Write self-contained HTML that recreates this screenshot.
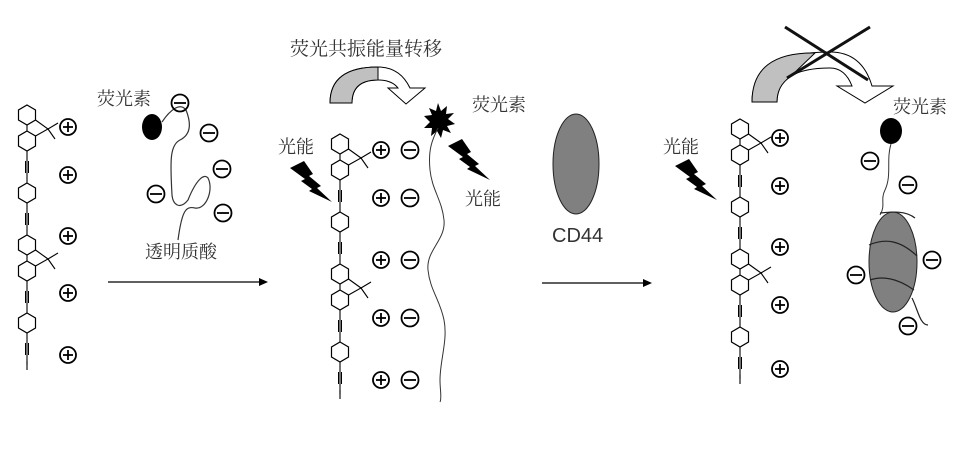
<!DOCTYPE html>
<html><head><meta charset="utf-8"><style>
html,body{margin:0;padding:0;background:#fff;}
svg{display:block;}
text{font-family:"Liberation Serif","Noto Serif CJK SC",serif;fill:#333;}
</style></head><body>
<svg width="960" height="449" viewBox="0 0 960 449" xmlns="http://www.w3.org/2000/svg">
<defs>
<polygon id="hx" points="0,-10 8.5,-5 8.5,5 0,10 -8.5,5 -8.5,-5" fill="none" stroke="#000" stroke-width="1.2"/>
<g id="fl" stroke="#000" stroke-width="1.1" fill="none">
  <use href="#hx" y="0"/>
  <use href="#hx" y="26"/>
  <line x1="0" y1="10" x2="0" y2="16"/>
  <polyline points="8.5,5 21,14 8.5,21"/>
  <line x1="21" y1="14" x2="31" y2="8"/>
  <line x1="21" y1="14" x2="28" y2="24"/>
</g>
<g id="tb" stroke="#000" fill="none">
  <line x1="0" y1="0" x2="0" y2="32" stroke-width="1.1"/>
  <line x1="-1.5" y1="10" x2="-1.5" y2="22" stroke-width="1"/>
  <line x1="1.5" y1="10" x2="1.5" y2="22" stroke-width="1"/>
</g>
<g id="chain">
  <use href="#fl" y="12"/>
  <use href="#tb" y="48"/>
  <use href="#hx" y="90"/>
  <use href="#tb" y="100"/>
  <use href="#fl" y="142"/>
  <use href="#tb" y="178"/>
  <use href="#hx" y="220"/>
  <use href="#tb" y="230"/>
  <line x1="0" y1="258" x2="0" y2="267" stroke="#000" stroke-width="1.1"/>
</g>
<g id="pl" fill="none" stroke="#000" stroke-width="1.8">
  <circle r="8"/><line x1="-5" y1="0" x2="5" y2="0"/><line x1="0" y1="-5" x2="0" y2="5"/>
</g>
<g id="mi" fill="none" stroke="#000" stroke-width="1.8">
  <circle r="8.5"/><line x1="-6" y1="0" x2="6" y2="0"/>
</g>
<polygon id="bolt" points="0,0 14,-7 23,6 19,8 31,18 27,20 42,34 19,23 22,21 11,13 15,11" fill="#000"/>
</defs>

<!-- Panel 1 -->
<use href="#chain" x="27" y="103"/>
<use href="#pl" x="68" y="127"/><use href="#pl" x="68" y="175"/><use href="#pl" x="68" y="236"/><use href="#pl" x="68" y="293"/><use href="#pl" x="68" y="355"/>
<text x="97" y="105" font-size="18">荧光素</text>
<ellipse cx="152" cy="127" rx="10" ry="13" fill="#000"/>
<path d="M162,122 C170,110 180,102 186,110 C192,125 190,135 180,140 C170,145 170,160 172,195 C173,205 180,210 188,200 C196,180 204,173 208,178 C214,190 206,210 195,208 C186,206 182,210 178,240" fill="none" stroke="#333" stroke-width="1.2"/>
<use href="#mi" x="180" y="103"/><use href="#mi" x="209" y="133"/><use href="#mi" x="222" y="169"/><use href="#mi" x="156" y="194"/><use href="#mi" x="223" y="213"/>
<text x="145" y="258" font-size="18">透明质酸</text>
<line x1="108" y1="282" x2="262" y2="282" stroke="#000" stroke-width="1.2"/>
<polygon points="268,282 259,278 259,286" fill="#000"/>

<!-- Panel 2 -->
<text x="290" y="55" font-size="19">荧光共振能量转移</text>
<path d="M330,103 Q330,67 378,67 Q400,67 410,88 L425,88 L406,104 L388,88 L398,88 Q392,80 378,80 Q352,80 352,103 Z" fill="#fff" stroke="#000" stroke-width="1"/>
<path d="M330,103 Q330,67 378,67 L378,80 Q352,80 352,103 Z" fill="#c0c0c0" stroke="#000" stroke-width="1"/>
<text x="278" y="153" font-size="18">光能</text>
<use href="#bolt" x="290" y="168"/>
<use href="#chain" x="340" y="132"/>
<g>
<use href="#pl" x="381" y="150"/><use href="#pl" x="381" y="198"/><use href="#pl" x="381" y="260"/><use href="#pl" x="381" y="318"/><use href="#pl" x="381" y="380"/>
<use href="#mi" x="410" y="150"/><use href="#mi" x="410" y="198"/><use href="#mi" x="410" y="260"/><use href="#mi" x="410" y="318"/><use href="#mi" x="410" y="380"/>
</g>
<polygon points="438,103 441,111 447,106 446,114 454,113 448,119 455,124 447,126 451,133 443,130 441,138 437,131 431,136 432,128 424,128 430,122 424,116 432,115 429,108 436,111" fill="#000"/>
<path d="M438,128 C432,140 428,150 430,170 C432,190 442,200 444,220 C446,240 426,250 428,270 C430,290 440,300 444,320 C448,340 440,360 440,380 C440,390 442,398 440,402" fill="none" stroke="#333" stroke-width="1"/>
<text x="472" y="111" font-size="18">荧光素</text>
<use href="#bolt" x="448" y="146"/>
<text x="465" y="205" font-size="18">光能</text>

<!-- arrow 2 -->
<line x1="542" y1="283" x2="646" y2="283" stroke="#000" stroke-width="1.2"/>
<polygon points="652,283 643,279 643,287" fill="#000"/>
<ellipse cx="576" cy="164" rx="23" ry="50" fill="#808080" stroke="#222" stroke-width="1"/>
<text x="552" y="242" font-size="20" style="font-family:'Liberation Sans',sans-serif">CD44</text>

<!-- Panel 3 -->
<path d="M752,102 Q752,52 830,52 Q862,52 872,86 L893,86 L865,103 L837,86 L852,86 Q845,68 830,68 Q777,68 777,102 Z" fill="#fff" stroke="#000" stroke-width="1"/>
<path d="M752,102 Q752,52 815,53 L790,77 Q777,86 777,102 Z" fill="#c0c0c0" stroke="#000" stroke-width="1"/>
<line x1="785" y1="27" x2="868" y2="80" stroke="#111" stroke-width="3"/>
<line x1="870" y1="27" x2="787" y2="78" stroke="#111" stroke-width="3"/>
<text x="663" y="153" font-size="18">光能</text>
<use href="#bolt" x="675" y="166"/>
<use href="#chain" x="740" y="117"/>
<use href="#pl" x="780" y="138"/><use href="#pl" x="780" y="186"/><use href="#pl" x="780" y="247"/><use href="#pl" x="780" y="305"/><use href="#pl" x="780" y="369"/>
<text x="893" y="113" font-size="18">荧光素</text>
<ellipse cx="891" cy="131" rx="11" ry="13" fill="#000"/>
<path d="M891,144 C886,160 892,175 885,190 C880,200 886,205 880,215" fill="none" stroke="#333" stroke-width="1"/>
<ellipse cx="893" cy="262" rx="24" ry="50" fill="#808080" stroke="#222" stroke-width="1"/>
<path d="M880,213 C890,212 905,210 915,218 M869,245 C885,238 900,240 917,256 M870,280 C885,275 900,280 914,290 M912,298 C918,310 920,325 928,325" fill="none" stroke="#222" stroke-width="1.2"/>
<use href="#mi" x="870" y="161"/><use href="#mi" x="908" y="185"/><use href="#mi" x="932" y="260"/><use href="#mi" x="856" y="275"/><use href="#mi" x="908" y="326"/>
</svg>
</body></html>
